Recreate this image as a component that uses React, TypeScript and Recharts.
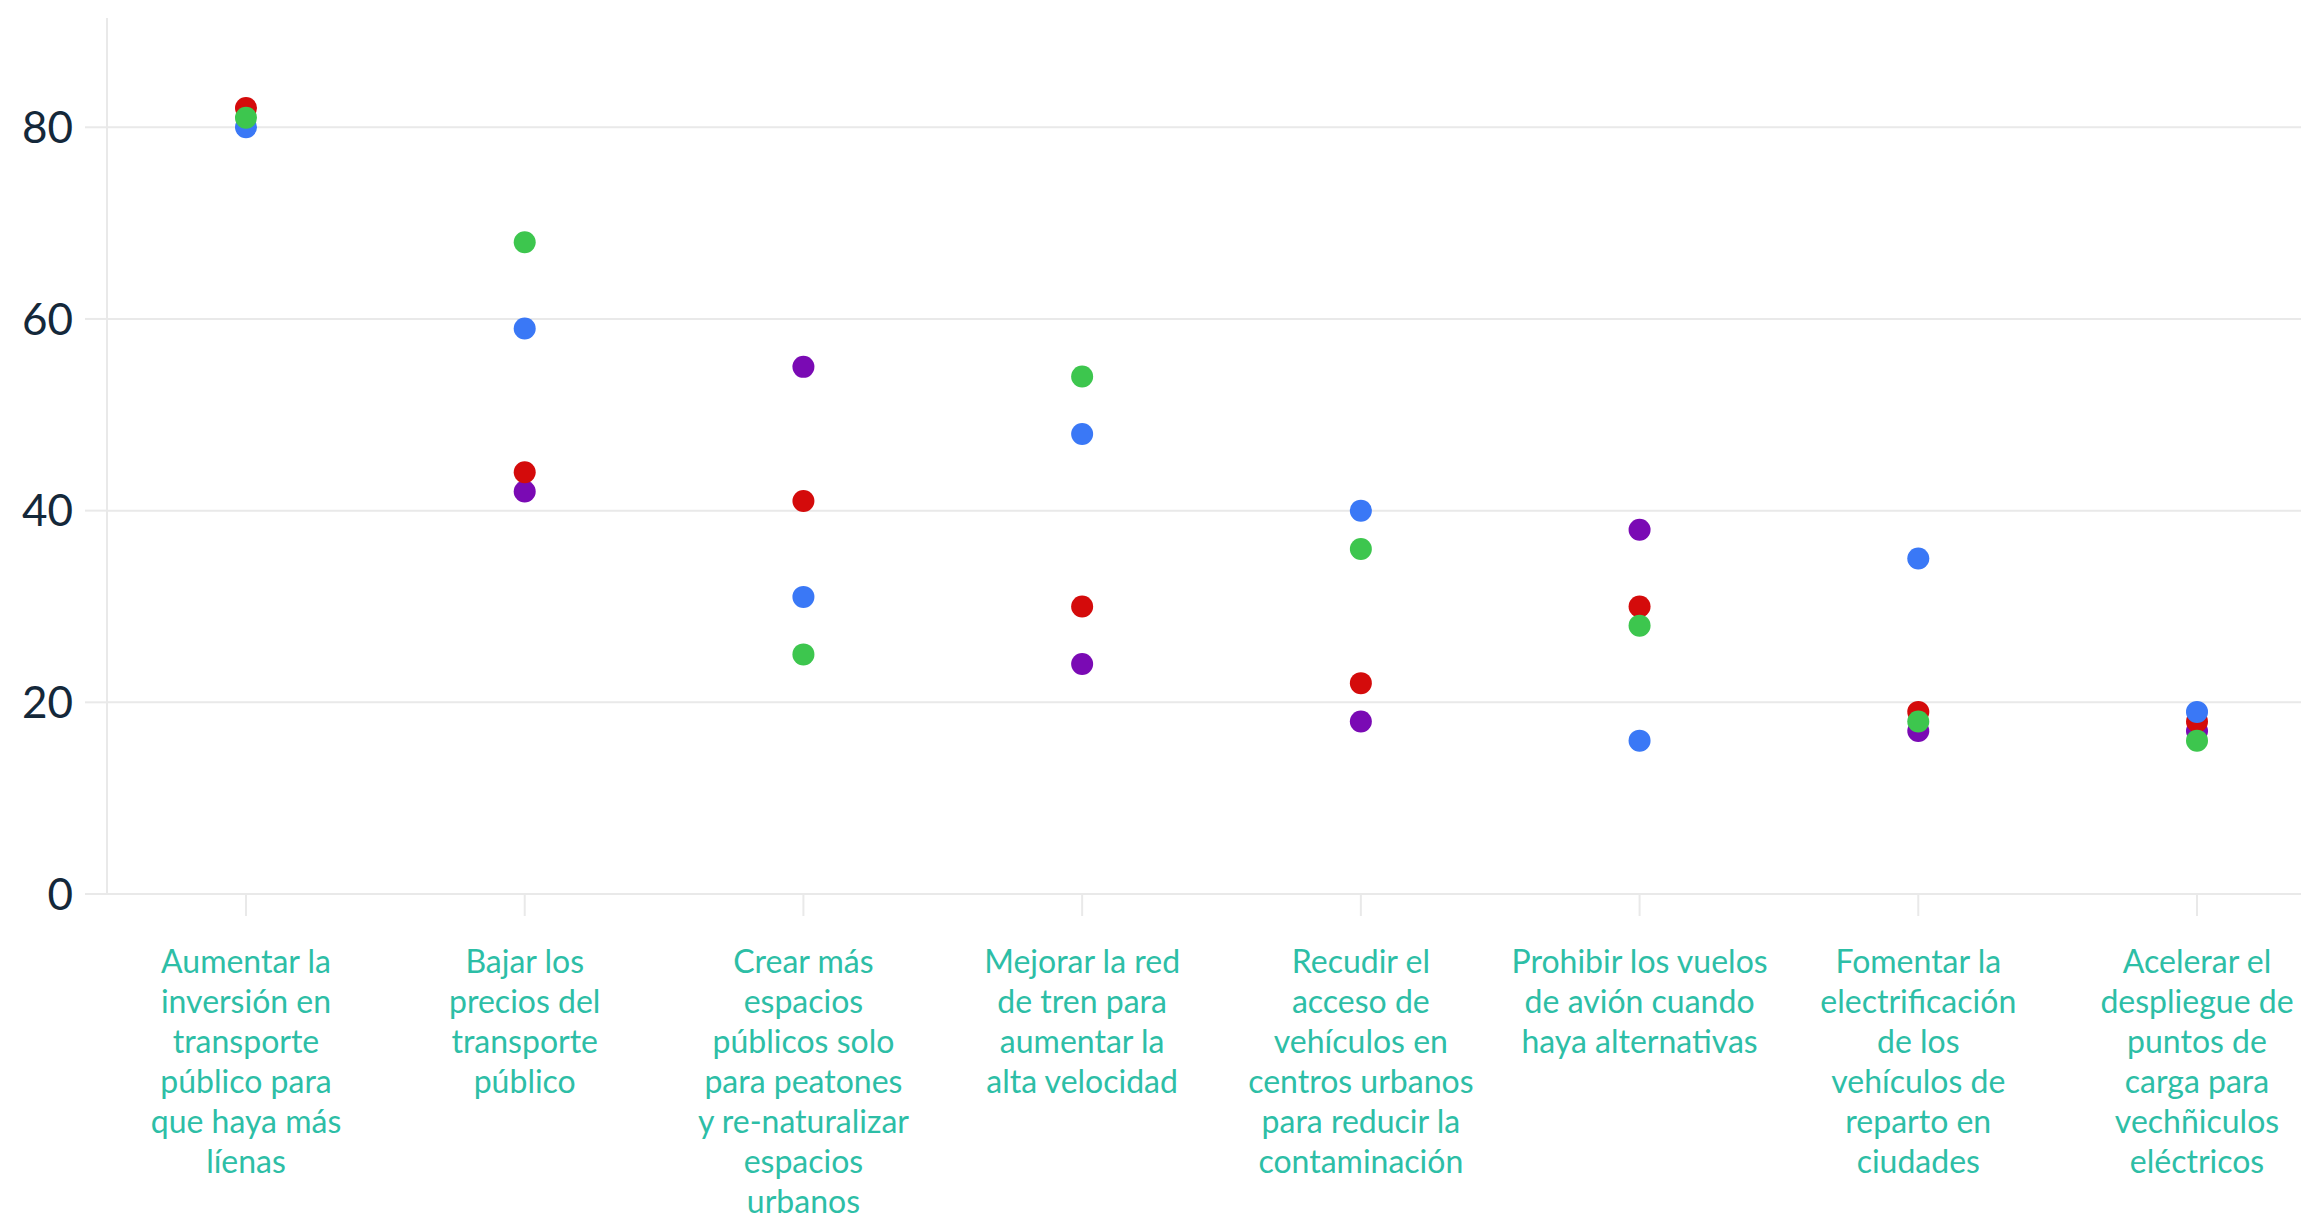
import React from "react";
import {
  ComposedChart,
  Line,
  XAxis,
  YAxis,
  ReferenceLine,
} from "recharts";

const categories: string[] = [
  "Aumentar la inversión en transporte público para que haya más líenas",
  "Bajar los precios del transporte público",
  "Crear más espacios públicos solo para peatones y re-naturalizar espacios urbanos",
  "Mejorar la red de tren para aumentar la alta velocidad",
  "Recudir el acceso de vehículos en centros urbanos para reducir la contaminación",
  "Prohibir los vuelos de avión cuando haya alternativas",
  "Fomentar la electrificación de los vehículos de reparto en ciudades",
  "Acelerar el despliegue de puntos de carga para vechñiculos eléctricos",
];

const categoryLines: string[][] = [
  ["Aumentar la", "inversión en", "transporte", "público para", "que haya más", "líenas"],
  ["Bajar los", "precios del", "transporte", "público"],
  ["Crear más", "espacios", "públicos solo", "para peatones", "y re-naturalizar", "espacios", "urbanos"],
  ["Mejorar la red", "de tren para", "aumentar la", "alta velocidad"],
  ["Recudir el", "acceso de", "vehículos en", "centros urbanos", "para reducir la", "contaminación"],
  ["Prohibir los vuelos", "de avión cuando", "haya alternativas"],
  ["Fomentar la", "electrificación", "de los", "vehículos de", "reparto en", "ciudades"],
  ["Acelerar el", "despliegue de", "puntos de", "carga para", "vechñiculos", "eléctricos"],
];

const purpleValues: (number | null)[] = [null, 42, 55, 24, 18, 38, 17, 17];
const redValues: number[] = [82, 44, 41, 30, 22, 30, 19, 18];
const blueValues: number[] = [80, 59, 31, 48, 40, 16, 35, 19];
const greenValues: number[] = [81, 68, 25, 54, 36, 28, 18, 16];

const yTicks: number[] = [0, 20, 40, 60, 80];

const data = categories.map((name, i) => ({
  name,
  purple: purpleValues[i],
  red: redValues[i],
  blue: blueValues[i],
  green: greenValues[i],
}));

const series = [
  { key: "purple", color: "#7a0ab4" },
  { key: "red", color: "#d40b0b" },
  { key: "blue", color: "#3a78f6" },
  { key: "green", color: "#3dc64e" },
];

const GRID = "#e9e9e9";

const XTick = (props: any) => {
  const { x, y, payload } = props;
  const idx = categories.indexOf(payload.value);
  const lines = idx >= 0 ? categoryLines[idx] : [String(payload.value)];
  return (
    <g transform={`translate(${x},${y})`}>
      <text
        textAnchor="middle"
        fill="#2dbea6"
        fontSize={32}
        fontFamily="Lato, sans-serif"
      >
        {lines.map((l, i) => (
          <tspan key={i} x={0} y={55 + i * 40}>
            {l}
          </tspan>
        ))}
      </text>
    </g>
  );
};

export default function App() {
  return (
    <div
      style={{
        position: "absolute",
        left: 0,
        top: 0,
        width: 2301,
        height: 1214,
        overflow: "hidden",
        background: "#fff",
      }}
    >
      <ComposedChart
        width={2336}
        height={1214}
        data={data}
        margin={{ top: 18, right: 0, left: 0, bottom: 0 }}
      >
        <XAxis
          dataKey="name"
          type="category"
          interval={0}
          height={320}
          padding={{ left: 139, right: 139 }}
          tickSize={22}
          tickMargin={2}
          axisLine={{ stroke: GRID, strokeWidth: 2 }}
          tickLine={{ stroke: GRID, strokeWidth: 2 }}
          tick={<XTick />}
        />
        <YAxis
          type="number"
          domain={[0, 91.4]}
          ticks={yTicks}
          width={107}
          tickSize={22}
          tickMargin={12}
          axisLine={{ stroke: GRID, strokeWidth: 2 }}
          tickLine={{ stroke: GRID, strokeWidth: 2 }}
          tick={{ fill: "#14283a", fontSize: 44, fontFamily: "Lato, sans-serif" }}
        />
        {yTicks.map((t) => (
          <ReferenceLine key={t} y={t} stroke={GRID} strokeWidth={2} />
        ))}
        {series.map((s) => (
          <Line
            key={s.key}
            dataKey={s.key}
            stroke="none"
            isAnimationActive={false}
            activeDot={false}
            connectNulls={false}
            dot={{ r: 11, fill: s.color, stroke: "none", fillOpacity: 1 }}
          />
        ))}
      </ComposedChart>
    </div>
  );
}
